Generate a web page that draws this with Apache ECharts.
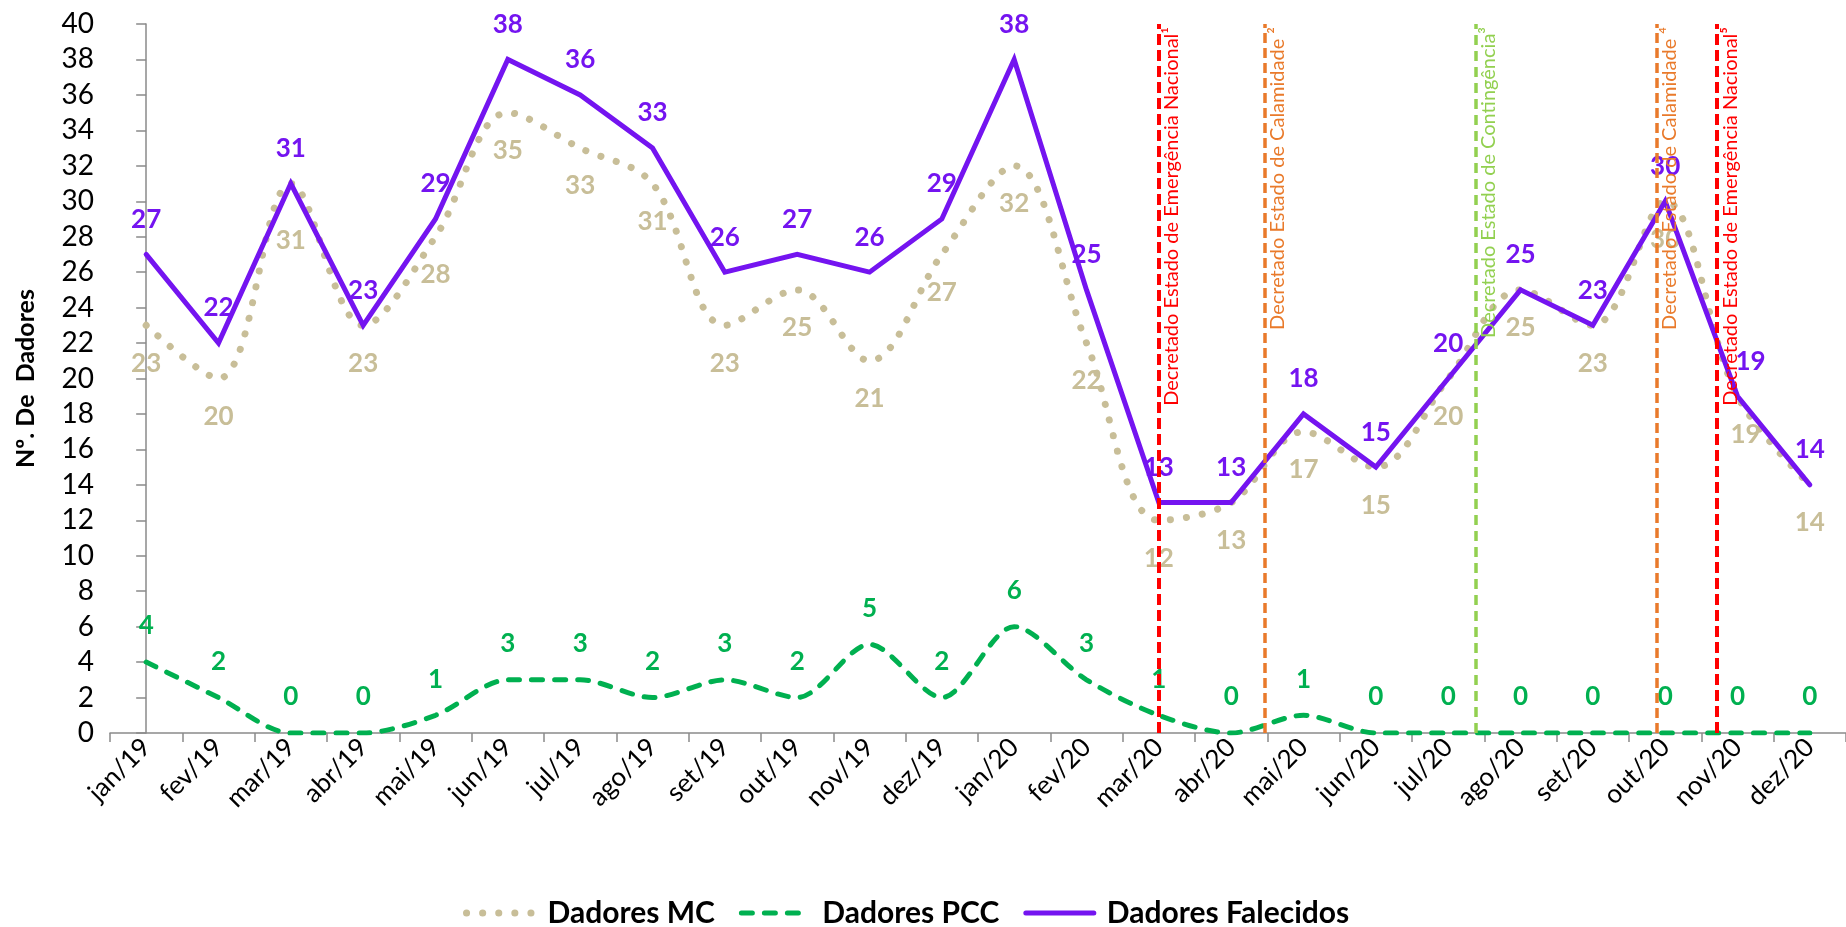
<!DOCTYPE html>
<html>
<head>
<meta charset="utf-8">
<script src="https://cdn.jsdelivr.net/npm/echarts@6/dist/echarts.min.js"></script>
<style>
  html, body { margin: 0; padding: 0; background: #fff; }
  #chart { width: 1846px; height: 927px; }
</style>
</head>
<body>
<div id="chart"></div>
<script>
// Monthly donor counts, Jan 2019 – Dec 2020
const months = ['jan/19','fev/19','mar/19','abr/19','mai/19','jun/19','jul/19','ago/19','set/19','out/19','nov/19','dez/19',
                'jan/20','fev/20','mar/20','abr/20','mai/20','jun/20','jul/20','ago/20','set/20','out/20','nov/20','dez/20'];
const dadoresMC        = [23,20,31,23,28,35,33,31,23,25,21,27,32,22,12,13,17,15,20,25,23,30,19,14];
const dadoresPCC       = [4,2,0,0,1,3,3,2,3,2,5,2,6,3,1,0,1,0,0,0,0,0,0,0];
const dadoresFalecidos = [27,22,31,23,29,38,36,33,26,27,26,29,38,25,13,13,18,15,20,25,23,30,19,14];

// Decrees marked on the timeline (position in month units from jan/19)
const decretoTexto = [
  'Decretado Estado de Emergência Nacional\u00B9',
  'Decretado Estado de Calamidade \u00B2',
  'Decretado Estado de Contingência\u00B3',
  'Decretado Estado de Calamidade \u2074',
  'Decretado Estado de Emergência Nacional\u2075'
];
const decretoPos = [14, 15.46, 18.38, 20.88, 21.72];
const decretoCor = ['#FF0000', '#E97A2B', '#92D050', '#E97A2B', '#FF0000'];

const yTicks = { min: 0, max: 40, step: 2 };

const FONT = 'Lato';
const PURPLE = '#7414F0';
const TAN = '#C8BE98';
const GREEN = '#00B050';
const AXIS = '#8A8A8A';
const HIDDEN = 'rgba(0,0,0,0)';

// hand-nudged label offsets where labels would collide
const labelNudge = {
  mc:  { 2: [0, 19], 22: [8, 0] },
  fal: { 22: [13, 0] }
};

function withNudge(values, nudges) {
  return values.map((v, i) => nudges[i] ? { value: v, label: { offset: nudges[i] } } : v);
}

const dashStyles = [
  { width: 4, type: [11, 5] },
  { width: 3.5, type: [10, 5] },
  { width: 3.5, type: [10, 6] },
  { width: 3.5, type: [10, 5] },
  { width: 4, type: [11, 5] }
];

const decretoSeries = decretoTexto.map((txt, i) => ({
  name: 'decreto' + i,
  type: 'line',
  xAxisIndex: 1,
  data: [],
  z: 5,
  markLine: {
    silent: true,
    symbol: 'none',
    animation: false,
    lineStyle: { color: decretoCor[i], width: dashStyles[i].width, type: dashStyles[i].type },
    label: {
      show: true,
      formatter: txt,
      position: 'insideEndBottom',
      distance: 3,
      color: decretoCor[i],
      fontFamily: FONT,
      fontSize: 20
    },
    data: [[{ coord: [decretoPos[i], yTicks.min] }, { coord: [decretoPos[i], yTicks.max] }]]
  }
}));

const labelBase = { show: true, fontFamily: FONT, fontSize: 26, fontWeight: 'bold' };

function donorSeries(name, data, color, lineStyle, smooth, labelPos, dist, z) {
  return {
    name: name,
    type: 'line',
    data: data,
    smooth: smooth,
    symbol: 'circle',
    symbolSize: 2,
    showSymbol: true,
    z: z,
    lineStyle: Object.assign({ color: color }, lineStyle),
    itemStyle: { color: HIDDEN, borderWidth: 0 },
    label: Object.assign({}, labelBase, { position: labelPos, distance: dist, color: color })
  };
}

const chart = echarts.init(document.getElementById('chart'));
chart.setOption({
  animation: false,
  textStyle: { fontFamily: FONT },
  grid: { left: 110, right: -3, top: 24, bottom: 194, containLabel: false },
  legend: {
    data: ['Dadores MC', 'Dadores PCC', 'Dadores Falecidos'],
    left: 458,
    top: 893,
    itemWidth: 68,
    itemHeight: 12,
    itemGap: 24,
    textStyle: { fontFamily: FONT, fontSize: 30, fontWeight: 'bold', color: '#000', padding: [0, 0, 0, 8] },
    lineStyle: { width: 'inherit', type: 'inherit', cap: 'inherit' }
  },
  xAxis: [{
    type: 'category',
    data: months,
    boundaryGap: true,
    axisLine: { lineStyle: { color: AXIS, width: 1.5 } },
    axisTick: { show: true, length: 9, lineStyle: { color: AXIS, width: 1.5 } },
    axisLabel: { rotate: 45, fontSize: 26, color: '#000', margin: 10, fontFamily: FONT },
    splitLine: { show: false }
  }, {
    type: 'value',
    min: -0.5,
    max: months.length - 0.5,
    show: false
  }],
  yAxis: {
    type: 'value',
    min: yTicks.min,
    max: yTicks.max,
    interval: yTicks.step,
    name: 'Nº. De  Dadores',
    nameLocation: 'middle',
    nameGap: 72,
    nameTextStyle: { fontFamily: FONT, fontSize: 25, fontWeight: 'bold', color: '#000' },
    axisLine: { show: true, lineStyle: { color: AXIS, width: 1.5 } },
    axisTick: { show: true, length: 10, lineStyle: { color: AXIS, width: 1.5 } },
    axisLabel: { fontSize: 28, color: '#000', margin: 16, fontFamily: FONT },
    splitLine: { show: false }
  },
  series: [
    donorSeries('Dadores MC', withNudge(dadoresMC, labelNudge.mc), TAN,
      { width: 7, type: [0.1, 16], cap: 'round' }, 0.35, 'bottom', 24, 2),
    donorSeries('Dadores PCC', dadoresPCC, GREEN,
      { width: 5, type: [11, 12], cap: 'round' }, 0.3, 'top', 22, 2),
    donorSeries('Dadores Falecidos', withNudge(dadoresFalecidos, labelNudge.fal), PURPLE,
      { width: 5, cap: 'round', join: 'miter' }, false, 'top', 21, 3)
  ].concat(decretoSeries)
});
</script>
</body>
</html>
